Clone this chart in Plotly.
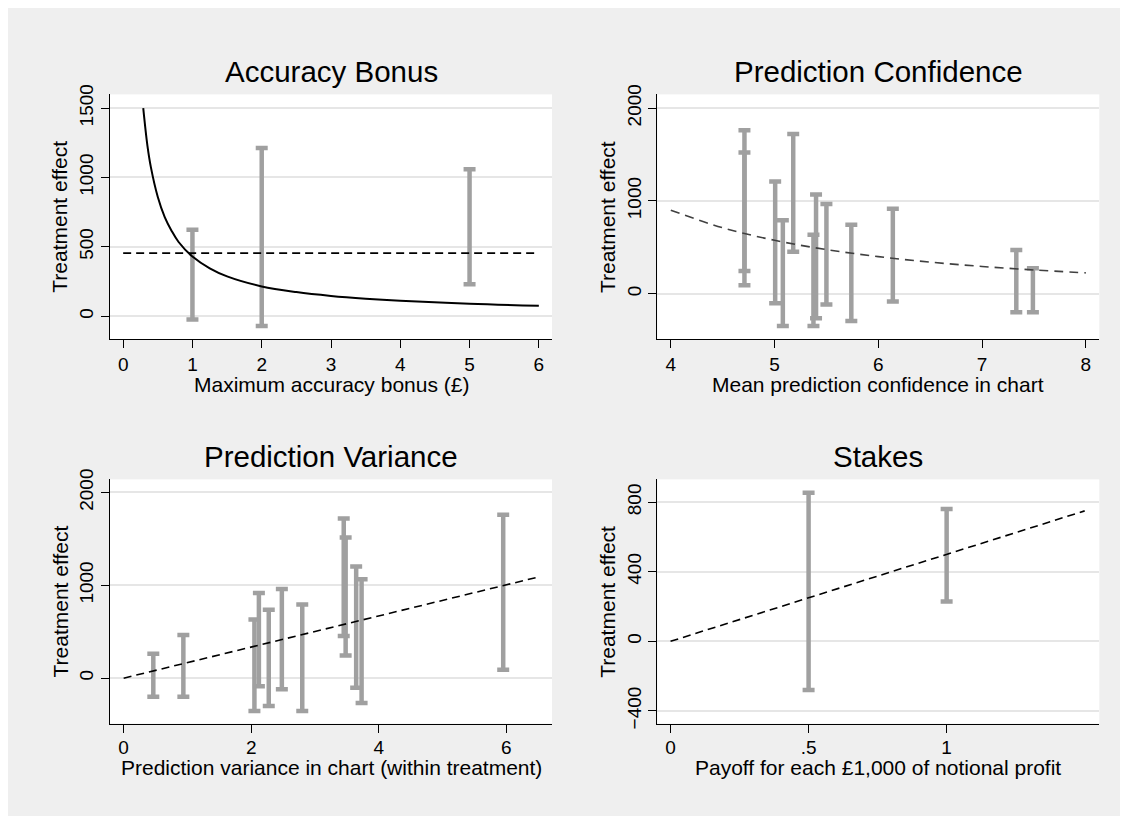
import plotly.graph_objects as go

# ---------------- data ----------------
# Accuracy Bonus panel
acc_x = [1, 2, 5]
acc_lo = [-23, -70, 231]
acc_hi = [624, 1212, 1059]
acc_null_x = [0, 6]
acc_null_y = [455, 455]
acc_curve_x = [0.29, 0.35, 0.4, 0.5, 0.6, 0.7, 0.8, 1.0, 1.25, 1.5, 2.0, 2.5, 3.0, 3.5, 4.0, 5.0, 6.0]
acc_curve_y = [1500, 1230, 1075, 860, 715, 615, 535, 430, 345, 287, 215, 174, 146, 126, 111, 90, 76]

# Prediction Confidence panel
conf_x = [4.71, 4.71, 5.006, 5.08, 5.18, 5.375, 5.40, 5.50, 5.74, 6.14, 7.33, 7.49]
conf_lo = [91, 246, -102, -348, 453, -348, -264, -116, -295, -84, -200, -200]
conf_hi = [1761, 1522, 1209, 791, 1722, 636, 1069, 967, 742, 917, 471, 274]
conf_fit_x = [4.0, 4.5, 5.0, 5.5, 6.0, 6.5, 7.0, 7.5, 8.0]
conf_fit_y = [900, 711, 576, 476, 400, 341, 294, 256, 225]

# Prediction Variance panel
var_x = [0.465, 0.936, 2.05, 2.12, 2.275, 2.48, 2.80, 3.45, 3.48, 3.645, 3.73, 5.95]
var_lo = [-200, -200, -355, -88, -299, -120, -355, 453, 243, -102, -267, 91]
var_hi = [264, 464, 633, 917, 738, 960, 794, 1719, 1515, 1202, 1065, 1761]
var_fit_x = [0, 6.48]
var_fit_y = [0, 1086]

# Stakes panel
stk_x = [0.5, 1.0]
stk_lo = [-280, 229]
stk_hi = [854, 761]
stk_fit_x = [0, 1.5]
stk_fit_y = [0, 750]

titles = ["Accuracy Bonus", "Prediction Confidence", "Prediction Variance", "Stakes"]
xtitles = ["Maximum accuracy bonus (£)", "Mean prediction confidence in chart",
           "Prediction variance in chart (within treatment)",
           "Payoff for each £1,000 of notional profit"]
ytitle = "Treatment effect"

x_ticks = [[0, 1, 2, 3, 4, 5, 6], [4, 5, 6, 7, 8], [0, 2, 4, 6], [0, 0.5, 1]]
x_ticktext = [["0", "1", "2", "3", "4", "5", "6"], ["4", "5", "6", "7", "8"],
              ["0", "2", "4", "6"], ["0", ".5", "1"]]
y_ticks = [[0, 500, 1000, 1500], [0, 1000, 2000], [0, 1000, 2000], [-400, 0, 400, 800]]
y_ticktext = [["0", "500", "1000", "1500"], ["0", "1000", "2000"],
              ["0", "1000", "2000"], ["\u2212400", "0", "400", "800"]]

# ---------------- layout geometry (pixels, figure coordinates) ----------------
# figure sized so that page (figure + 8px body margins) fits the 1128x824 window exactly
W, H = 1112, 808
FONT = "Liberation Sans, Arial, Helvetica, sans-serif"
px_x = [(102, 544), (649.3, 1091.3), (102, 544), (649.3, 1091.3)]
px_y = [(77, 327), (77, 327), (470.3, 719.7), (470.3, 719.7)]
x_ranges = [[-0.19, 6.19], [3.87, 8.13], [-0.214, 6.715], [-0.048, 1.553]]
y_ranges = [[-165, 1599], [-489, 2148], [-489, 2141], [-473, 931]]
xtitle_gap = [46, 46, 45, 45]
tick_standoff = [0, 0, -2, -2]

BAR_COLOR = "#a0a0a0"


def build(use_standoff=True):
    fig = go.Figure()

    def add_bars(idx, xs, lo, hi):
        mid = [(a + b) / 2 for a, b in zip(lo, hi)]
        half = [(b - a) / 2 for a, b in zip(lo, hi)]
        fig.add_trace(go.Scatter(
            x=xs, y=mid, mode="markers",
            marker=dict(size=1, color="rgba(0,0,0,0)"),
            error_y=dict(type="data", array=half, symmetric=True,
                         color=BAR_COLOR, thickness=4.5, width=6),
            xaxis=f"x{idx if idx > 1 else ''}", yaxis=f"y{idx if idx > 1 else ''}",
            showlegend=False, hoverinfo="skip"))

    def add_line(idx, xs, ys, color="black", dash="8px,5px", width=1.6, shape="linear"):
        fig.add_trace(go.Scatter(
            x=xs, y=ys, mode="lines",
            line=dict(color=color, dash=dash, width=width, shape=shape),
            xaxis=f"x{idx if idx > 1 else ''}", yaxis=f"y{idx if idx > 1 else ''}",
            showlegend=False, hoverinfo="skip"))

    add_bars(1, acc_x, acc_lo, acc_hi)
    add_line(1, acc_null_x, acc_null_y)
    add_line(1, acc_curve_x, acc_curve_y, dash="solid", width=2, shape="spline")
    add_bars(2, conf_x, conf_lo, conf_hi)
    add_line(2, conf_fit_x, conf_fit_y, color="#404040", dash="9px,6px", shape="spline")
    add_bars(3, var_x, var_lo, var_hi)
    add_line(3, var_fit_x, var_fit_y)
    add_bars(4, stk_x, stk_lo, stk_hi)
    add_line(4, stk_fit_x, stk_fit_y)

    layout = dict(
        width=W, height=H,
        margin=dict(l=0, r=0, t=0, b=0),
        paper_bgcolor="#efefef",
        plot_bgcolor="white",
        font=dict(family=FONT, color="black"),
        showlegend=False,
    )

    annotations = []
    for i in range(4):
        k = "" if i == 0 else str(i + 1)
        x0, x1 = px_x[i]
        y0, y1 = px_y[i]
        xa = dict(
            domain=[x0 / W, x1 / W], range=x_ranges[i], anchor=f"y{k}",
            tickmode="array", tickvals=x_ticks[i], ticktext=x_ticktext[i],
            showgrid=False, zeroline=False, showline=True, linecolor="black", linewidth=1.3,
            ticks="outside", ticklen=8, tickwidth=1.3, tickcolor="black",
            tickfont=dict(size=19, family=FONT, color="black"), fixedrange=True)
        if use_standoff and tick_standoff[i]:
            xa["ticklabelstandoff"] = tick_standoff[i]
        layout[f"xaxis{k}"] = xa
        layout[f"yaxis{k}"] = dict(
            domain=[1 - y1 / H, 1 - y0 / H], range=y_ranges[i], anchor=f"x{k}",
            tickmode="array", tickvals=y_ticks[i], ticktext=y_ticktext[i],
            showgrid=True, gridcolor="#e6e6e6", gridwidth=1.5,
            zeroline=False, showline=True, linecolor="black", linewidth=1.3,
            ticks="outside", ticklen=8, tickwidth=1.3, tickcolor="black", tickangle=-90,
            tickfont=dict(size=19, family=FONT, color="black"), fixedrange=True)
        cx = (x0 + x1) / 2
        annotations.append(dict(
            text=titles[i], x=cx / W, y=1 - (y0 - 23) / H, xref="paper", yref="paper",
            xanchor="center", yanchor="middle", showarrow=False,
            font=dict(size=29.5, family=FONT, color="black")))
        annotations.append(dict(
            text=xtitles[i], x=cx / W, y=1 - (y1 + xtitle_gap[i]) / H, xref="paper", yref="paper",
            xanchor="center", yanchor="middle", showarrow=False,
            font=dict(size=21, family=FONT, color="black")))
        annotations.append(dict(
            text=ytitle, x=(x0 - 50) / W, y=1 - ((y0 + y1) / 2) / H, xref="paper", yref="paper",
            xanchor="center", yanchor="middle", showarrow=False, textangle=-90,
            font=dict(size=21, family=FONT, color="black")))

    layout["annotations"] = annotations
    fig.update_layout(**layout)
    return fig


try:
    fig = build(True)
except Exception:
    fig = build(False)

fig.write_html("out.html")
